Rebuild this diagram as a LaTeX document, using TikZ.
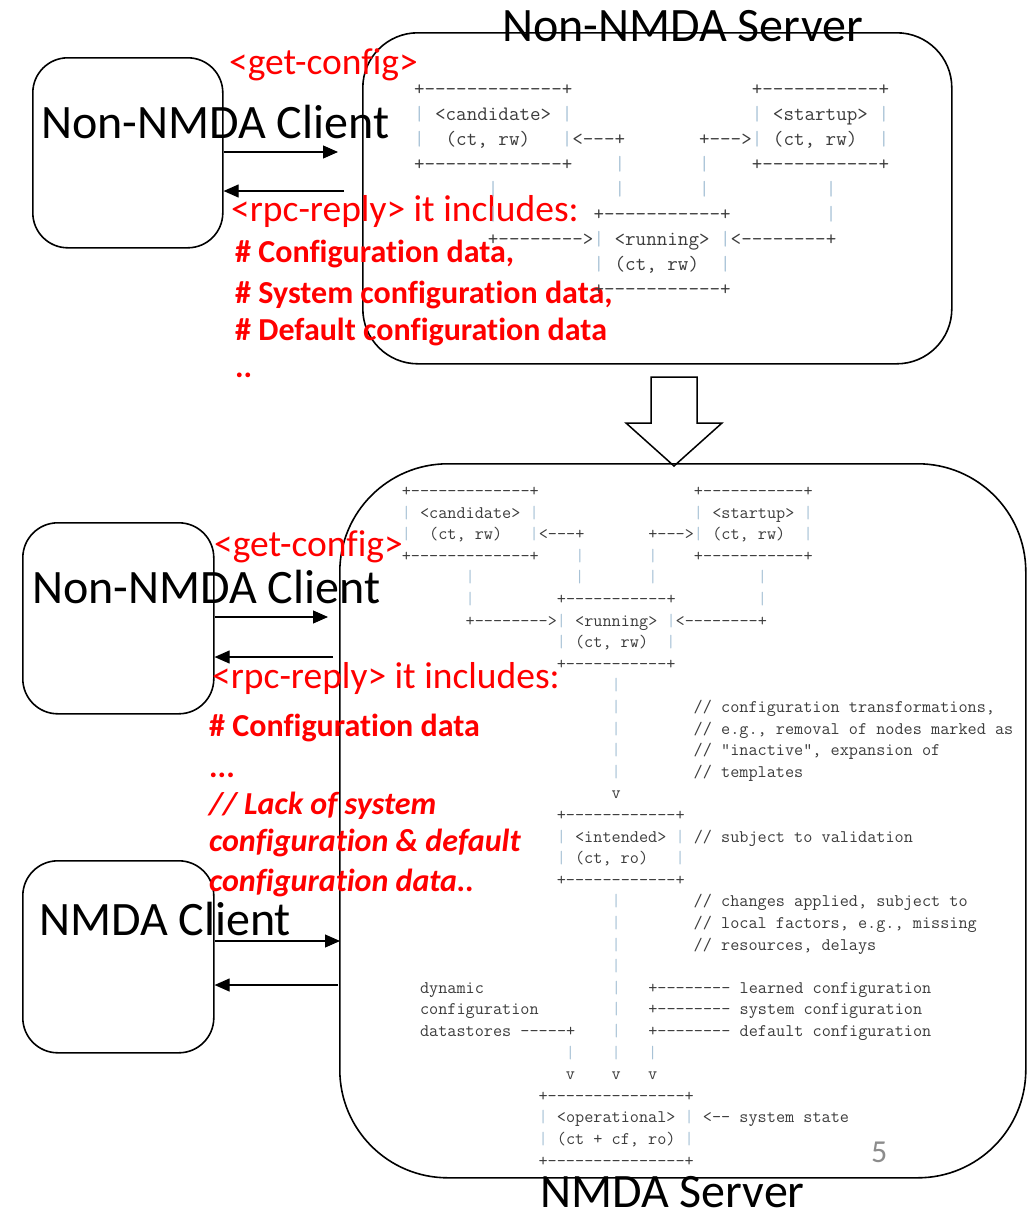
\documentclass[tikz,border=0pt]{standalone}
\usepackage{fontspec}
\setmainfont{Carlito}[Ligatures=CommonOff]
\setmonofont{Latin Modern Mono}
\usetikzlibrary{arrows.meta}

\definecolor{msgred}{RGB}{255,0,0}
\definecolor{asciitxt}{RGB}{60,60,60}
\definecolor{asciibar}{RGB}{168,194,214}
\definecolor{pagenum}{RGB}{140,140,140}

% a vertical bar of the datastore figure
\newcommand\vb{\textcolor{asciibar}{|}}

\tikzset{
  biglbl/.style={anchor=base west, inner sep=0pt, font=\fontsize{48}{50}\selectfont},
  msglbl/.style={anchor=base west, inner sep=0pt, text=msgred, font=\fontsize{37.5}{40}\selectfont},
  notelbl/.style={anchor=base west, inner sep=0pt, text=msgred, font=\bfseries\fontsize{32}{34}\selectfont},
  noteit/.style={notelbl, font=\bfseries\itshape\fontsize{32}{34}\selectfont},
  clientbox/.style={draw, line width=1.6pt, rounded corners=35pt, anchor=north west, inner sep=0pt},
  serverbox/.style={draw, line width=1.6pt, anchor=north west, inner sep=0pt},
  msgarrow/.style={line width=1.1pt, -{Triangle[length=15pt,width=13pt]}},
  asciirow/.style={anchor=base west, inner sep=0pt, text=asciitxt},
  asciitop/.style={asciirow, font=\ttfamily\frenchspacing\fontsize{20.5}{22}\selectfont},
  asciibot/.style={asciirow, font=\ttfamily\frenchspacing\fontsize{17.73}{19}\selectfont},
}

\begin{document}
\begin{tikzpicture}[x=1pt,y=-1pt]
\useasboundingbox (0,0) rectangle (1030,1210);

% ---------------- upper part: Non-NMDA client and server ----------------
\node[serverbox, rounded corners=55pt, minimum width=589pt, minimum height=331pt] (srv1) at (362,32) {};
\node[clientbox, minimum width=190pt, minimum height=190pt] (c1) at (32,57) {};

\node[biglbl] (srv1lbl) at (502,41) {Non-NMDA Server};
\node[biglbl] (c1lbl) at (41,138) {Non-NMDA Client};

\coordinate (c1req) at (338,152);
\coordinate (c1rep) at (344,191);
\draw[msgarrow] (c1.east |- c1req) -- (c1req);
\draw[msgarrow] (c1rep) -- (c1.east |- c1rep);

\node[msglbl] (get1) at (229,74) {<get-config>};
\node[msglbl] (rep1) at (231,221) {<rpc-reply> it includes:};
\node[notelbl] (n1a) at (235,262) {\# Configuration data,};
\node[notelbl] (n1b) at (235,303) {\# System configuration data,};
\node[notelbl] (n1c) at (235,340) {\# Default configuration data};
\node[notelbl] (n1d) at (235,377) {..};

% datastores of the Non-NMDA server
\begin{scope}[shift={(361,95)}, x=10.56pt, y=-25pt]
\node[asciitop] (t0) at (5,0) {+-------------+~~~~~~~~~~~~~~~~~+-----------+};
\node[asciitop] (t1) at (5,1) {\vb~<candidate>~\vb~~~~~~~~~~~~~~~~~\vb~<startup>~\vb};
\node[asciitop] (t2) at (5,2) {\vb~~(ct,~rw)~~~\vb<---+~~~~~~~+--->\vb~(ct,~rw)~~\vb};
\node[asciitop] (t3) at (5,3) {+-------------+~~~~\vb~~~~~~~\vb~~~~+-----------+};
\node[asciitop] (t4) at (12,4) {\vb~~~~~~~~~~~\vb~~~~~~~\vb~~~~~~~~~~~\vb};
\node[asciitop] (t5) at (12,5) {\vb~~~~~~~~~+-----------+~~~~~~~~~\vb};
\node[asciitop] (t6) at (12,6) {+-------->\vb~<running>~\vb<--------+};
\node[asciitop] (t7) at (22,7) {\vb~(ct,~rw)~~\vb};
\node[asciitop] (t8) at (22,8) {+-----------+};
\end{scope}

% ---------------- transition arrow ----------------
\draw[line width=1.5pt, line join=miter] (651,377) -- (697,377) -- (697,423) -- (722,423)
  -- (674,466) -- (626,423) -- (651,423) -- cycle;

% ---------------- lower part: NMDA server with two clients ----------------
\node[serverbox, rounded corners=108pt, minimum width=686pt, minimum height=714pt] (srv2) at (339,463) {};
\node[clientbox, minimum width=191pt, minimum height=191pt] (c2) at (22,522) {};
\node[clientbox, minimum width=191pt, minimum height=192pt] (c3) at (22,860) {};

\node[biglbl] (srv2lbl) at (540,1207) {NMDA Server};
\node[biglbl] (c2lbl) at (32,603) {Non-NMDA Client};
\node[biglbl] (c3lbl) at (39,935) {NMDA Client};

\coordinate (c2req) at (328,617);
\coordinate (c2rep) at (333,657);
\draw[msgarrow] (c2.east |- c2req) -- (c2req);
\draw[msgarrow] (c2rep) -- (c2.east |- c2rep);

\coordinate (c3req) at (340,941);
\coordinate (c3rep) at (338,985);
\draw[msgarrow] (c3.east |- c3req) -- (c3req);
\draw[msgarrow] (c3rep) -- (c3.east |- c3rep);

\node[msglbl] (get2) at (214,556) {<get-config>};
\node[msglbl] (rep2) at (212,688) {<rpc-reply> it includes:};
\node[notelbl] (n2a) at (209,736) {\# Configuration data};
\node[notelbl] (n2b) at (209,777) {...};
\node[noteit] (n2c) at (209,814) {// Lack of system};
\node[noteit] (n2d) at (209,851) {configuration \& default};
\node[noteit] (n2e) at (209,891) {configuration data..};

% NMDA datastore architecture
\begin{scope}[shift={(356,496.5)}, x=9.12pt, y=-21.6pt]
\node[asciibot] (b0) at (5,0) {+-------------+~~~~~~~~~~~~~~~~~+-----------+};
\node[asciibot] (b1) at (5,1) {\vb~<candidate>~\vb~~~~~~~~~~~~~~~~~\vb~<startup>~\vb};
\node[asciibot] (b2) at (5,2) {\vb~~(ct,~rw)~~~\vb<---+~~~~~~~+--->\vb~(ct,~rw)~~\vb};
\node[asciibot] (b3) at (5,3) {+-------------+~~~~\vb~~~~~~~\vb~~~~+-----------+};
\node[asciibot] (b4) at (12,4) {\vb~~~~~~~~~~~\vb~~~~~~~\vb~~~~~~~~~~~\vb};
\node[asciibot] (b5) at (12,5) {\vb~~~~~~~~~+-----------+~~~~~~~~~\vb};
\node[asciibot] (b6) at (12,6) {+-------->\vb~<running>~\vb<--------+};
\node[asciibot] (b7) at (22,7) {\vb~(ct,~rw)~~\vb};
\node[asciibot] (b8) at (22,8) {+-----------+};
\node[asciibot] (b9) at (28,9) {\vb};
\node[asciibot] (b10) at (28,10) {\vb~~~~~~~~//~configuration~transformations,};
\node[asciibot] (b11) at (28,11) {\vb~~~~~~~~//~e.g.,~removal~of~nodes~marked~as};
\node[asciibot] (b12) at (28,12) {\vb~~~~~~~~//~"inactive",~expansion~of};
\node[asciibot] (b13) at (28,13) {\vb~~~~~~~~//~templates};
\node[asciibot] (b14) at (28,14) {v};
\node[asciibot] (b15) at (22,15) {+------------+};
\node[asciibot] (b16) at (22,16) {\vb~<intended>~\vb~//~subject~to~validation};
\node[asciibot] (b17) at (22,17) {\vb~(ct,~ro)~~~\vb};
\node[asciibot] (b18) at (22,18) {+------------+};
\node[asciibot] (b19) at (28,19) {\vb~~~~~~~~//~changes~applied,~subject~to};
\node[asciibot] (b20) at (28,20) {\vb~~~~~~~~//~local~factors,~e.g.,~missing};
\node[asciibot] (b21) at (28,21) {\vb~~~~~~~~//~resources,~delays};
\node[asciibot] (b22) at (28,22) {\vb};
\node[asciibot] (b23) at (7,23) {dynamic~~~~~~~~~~~~~~\vb~~~+--------~learned~configuration};
\node[asciibot] (b24) at (7,24) {configuration~~~~~~~~\vb~~~+--------~system~configuration};
\node[asciibot] (b25) at (7,25) {datastores~-----+~~~~\vb~~~+--------~default~configuration};
\node[asciibot] (b26) at (23,26) {\vb~~~~\vb~~~\vb};
\node[asciibot] (b27) at (23,27) {v~~~~v~~~v};
\node[asciibot] (b28) at (20,28) {+---------------+};
\node[asciibot] (b29) at (20,29) {\vb~<operational>~\vb~<--~system~state};
\node[asciibot] (b30) at (20,30) {\vb~(ct~+~cf,~ro)~\vb};
\node[asciibot] (b31) at (20,31) {+---------------+};
\end{scope}

\node[anchor=base west, inner sep=0pt, text=pagenum, font=\fontsize{32}{34}\selectfont] (pg) at (871,1162) {5};
\end{tikzpicture}
\end{document}
